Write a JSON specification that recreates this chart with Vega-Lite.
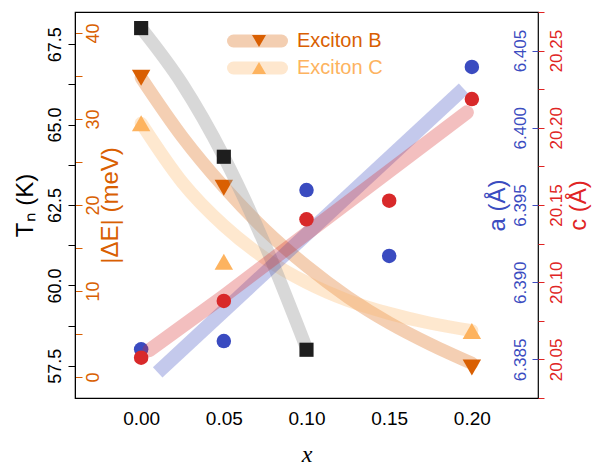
{
  "$schema": "https://vega.github.io/schema/vega-lite/v6.json",
  "width": 463,
  "height": 386,
  "autosize": {"type": "none"},
  "padding": {"left": 75, "top": 12, "right": 55, "bottom": 70},
  "background": "white",
  "config": {
    "font": "Liberation Sans",
    "view": {"stroke": "black", "strokeWidth": 1.2},
    "axis": {"grid": false, "labelFont": "Liberation Sans", "titleFont": "Liberation Sans", "titleFontWeight": "normal", "labelOverlap": false, "labelFlush": false, "labelBound": false}
  },
  "datasets": {
    "tn": [
      {"x": 0, "TN": 68, "kind": "pt"}, {"x": 0.05, "TN": 64, "kind": "pt"}, {"x": 0.1, "TN": 58, "kind": "pt"},
      {"x": 0, "TN": 68, "kind": "fit"}, {"x": 0.025, "TN": 66.25, "kind": "fit"}, {"x": 0.05, "TN": 64, "kind": "fit"}, {"x": 0.075, "TN": 61.25, "kind": "fit"}, {"x": 0.1, "TN": 58.05, "kind": "fit"}
    ],
    "de": [
      {"x": 0, "dE": 34.8, "series": "Exciton B", "kind": "pt"}, {"x": 0.05, "dE": 22.0, "series": "Exciton B", "kind": "pt"}, {"x": 0.2, "dE": 1.1, "series": "Exciton B", "kind": "pt"},
      {"x": 0, "dE": 29.5, "series": "Exciton C", "kind": "pt"}, {"x": 0.05, "dE": 13.4, "series": "Exciton C", "kind": "pt"}, {"x": 0.2, "dE": 5.35, "series": "Exciton C", "kind": "pt"},
      {"x": 0, "dE": 34.8, "series": "Exciton B", "kind": "fit"}, {"x": 0.025, "dE": 27.9, "series": "Exciton B", "kind": "fit"}, {"x": 0.05, "dE": 22.1, "series": "Exciton B", "kind": "fit"}, {"x": 0.075, "dE": 17.1, "series": "Exciton B", "kind": "fit"}, {"x": 0.1, "dE": 12.9, "series": "Exciton B", "kind": "fit"}, {"x": 0.125, "dE": 9.3, "series": "Exciton B", "kind": "fit"}, {"x": 0.15, "dE": 6.3, "series": "Exciton B", "kind": "fit"}, {"x": 0.175, "dE": 3.8, "series": "Exciton B", "kind": "fit"}, {"x": 0.2, "dE": 1.6, "series": "Exciton B", "kind": "fit"},
      {"x": 0, "dE": 29.5, "series": "Exciton C", "kind": "fit"}, {"x": 0.025, "dE": 22.6, "series": "Exciton C", "kind": "fit"}, {"x": 0.05, "dE": 17.6, "series": "Exciton C", "kind": "fit"}, {"x": 0.075, "dE": 13.8, "series": "Exciton C", "kind": "fit"}, {"x": 0.1, "dE": 11.0, "series": "Exciton C", "kind": "fit"}, {"x": 0.125, "dE": 8.9, "series": "Exciton C", "kind": "fit"}, {"x": 0.15, "dE": 7.4, "series": "Exciton C", "kind": "fit"}, {"x": 0.175, "dE": 6.25, "series": "Exciton C", "kind": "fit"}, {"x": 0.2, "dE": 5.4, "series": "Exciton C", "kind": "fit"}
    ],
    "a": [
      {"x": 0, "a": 6.38565, "kind": "pt"}, {"x": 0.05, "a": 6.38619, "kind": "pt"}, {"x": 0.1, "a": 6.39597, "kind": "pt"}, {"x": 0.15, "a": 6.3917, "kind": "pt"}, {"x": 0.2, "a": 6.40394, "kind": "pt"},
      {"x": 0.01, "a": 6.38416, "kind": "fit"}, {"x": 0.195, "a": 6.40254, "kind": "fit"}
    ],
    "c": [
      {"x": 0, "c": 20.0511, "kind": "pt"}, {"x": 0.05, "c": 20.0879, "kind": "pt"}, {"x": 0.1, "c": 20.1407, "kind": "pt"}, {"x": 0.15, "c": 20.1528, "kind": "pt"}, {"x": 0.2, "c": 20.2186, "kind": "pt"},
      {"x": 0.005, "c": 20.056, "kind": "fit"}, {"x": 0.05, "c": 20.091, "kind": "fit"}, {"x": 0.197, "c": 20.21, "kind": "fit"}
    ]
  },
  "encoding": {
    "x": {
      "field": "x", "type": "quantitative",
      "scale": {"domain": [-0.04, 0.24], "nice": false, "zero": false},
      "axis": {"values": [0, 0.05, 0.1, 0.15, 0.2], "format": ".2f", "ticks": false, "labelFontSize": 19, "labelColor": "black", "labelPadding": 11, "domainColor": "black", "title": "x", "titleFont": "Liberation Serif", "titleFontStyle": "italic", "titleFontSize": 24, "titlePadding": 14, "titleColor": "black"}
    }
  },
  "layer": [
    {
      "data": {"name": "de"},
      "encoding": {
        "y": {
          "field": "dE", "type": "quantitative",
          "scale": {"domain": [-2.44, 42.44], "nice": false, "zero": false},
          "axis": {"orient": "right", "offset": -463, "values": [0, 5, 10, 15, 20, 25, 30, 35, 40], "labelExpr": "datum.value % 10 === 0 ? datum.label : ''", "domain": false, "tickColor": "#d95f02", "tickSize": 7, "labelColor": "#d95f02", "labelFontSize": 18, "labelAngle": -90, "labelAlign": "center", "labelBaseline": "top", "labelPadding": 2, "title": "|ΔE| (meV)", "titleColor": "#d95f02", "titleFontSize": 24, "titleAngle": -90, "titleBaseline": "top", "titlePadding": -4}
        }
      },
      "layer": [
        {
          "transform": [{"filter": "datum.kind === 'fit'"}],
          "mark": {"type": "line", "strokeWidth": 13, "opacity": 0.3, "strokeCap": "round", "interpolate": "monotone"},
          "encoding": {
            "color": {
              "field": "series", "type": "nominal",
              "scale": {"domain": ["Exciton B", "Exciton C"], "range": ["#d95f02", "#fdb35f"]},
              "legend": {"orient": "none", "legendX": 152, "legendY": 19, "title": null, "padding": 0, "symbolType": "stroke", "symbolSize": 2304, "symbolStrokeWidth": 13, "symbolOpacity": 0.3, "labelFontSize": 20, "labelOffset": 9, "clipHeight": 20, "rowPadding": 7, "encode": {"labels": {"update": {"fill": {"signal": "datum.value === 'Exciton B' ? '#d95f02' : '#fdb35f'"}}}, "symbols": {"update": {"strokeCap": {"value": "round"}}}}}
            }
          }
        },
        {
          "transform": [{"filter": "datum.kind === 'pt'"}],
          "mark": {"type": "point", "filled": true, "opacity": 1, "size": 340},
          "encoding": {
            "fill": {
              "field": "series", "type": "nominal",
              "scale": {"domain": ["Exciton B", "Exciton C"], "range": ["#d95f02", "#fdb35f"]},
              "legend": {"orient": "none", "legendX": 174, "legendY": 19, "title": null, "padding": 0, "symbolSize": 196, "symbolStrokeWidth": 0, "symbolOpacity": 1, "labelExpr": "''", "labelFontSize": 20, "clipHeight": 20, "rowPadding": 7, "encode": {"symbols": {"update": {"shape": {"signal": "datum.value === 'Exciton B' ? 'triangle-down' : 'triangle-up'"}, "strokeWidth": {"value": 0}}}}}
            },
            "shape": {
              "field": "series", "type": "nominal",
              "scale": {"domain": ["Exciton B", "Exciton C"], "range": ["triangle-down", "triangle-up"]},
              "legend": null
            }
          }
        }
      ],
      "resolve": {"scale": {"color": "independent", "fill": "independent"}, "legend": {"color": "independent", "fill": "independent"}}
    },
    {
      "data": {"name": "tn"},
      "encoding": {
        "y": {
          "field": "TN", "type": "quantitative",
          "scale": {"domain": [56.5, 68.5], "nice": false, "zero": false},
          "axis": {"orient": "left", "values": [57.5, 58.75, 60, 61.25, 62.5, 63.75, 65, 66.25, 67.5], "labelExpr": "datum.value % 2.5 === 0 ? format(datum.value, '.1f') : ''", "domain": true, "domainColor": "black", "tickColor": "black", "tickSize": 7, "labelColor": "black", "labelFontSize": 18, "labelAngle": -90, "labelAlign": "center", "labelBaseline": "bottom", "labelPadding": 4, "title": "Tₙ (K)", "titleColor": "black", "titleFontSize": 24, "titleAngle": -90, "titlePadding": 9}
        }
      },
      "layer": [
        {
          "transform": [{"filter": "datum.kind === 'fit'"}],
          "mark": {"type": "line", "strokeWidth": 13, "color": "#a8a8a8", "opacity": 0.45, "strokeCap": "butt", "interpolate": "monotone"}
        },
        {
          "transform": [{"filter": "datum.kind === 'pt'"}],
          "mark": {"type": "point", "shape": "square", "filled": true, "color": "#1e1e1e", "opacity": 1, "size": 200}
        }
      ]
    },
    {
      "data": {"name": "a"},
      "encoding": {
        "y": {
          "field": "a", "type": "quantitative",
          "scale": {"domain": [6.3825, 6.4075], "nice": false, "zero": false},
          "axis": {"orient": "left", "offset": -463, "values": [6.385, 6.39, 6.395, 6.4, 6.405], "format": ".3f", "domain": false, "tickColor": "#3b4cc0", "tickSize": 6, "labelColor": "#3b4cc0", "labelFontSize": 17, "labelAngle": -90, "labelAlign": "center", "labelBaseline": "bottom", "labelPadding": 3, "title": "a (Å)", "titleColor": "#3b4cc0", "titleFontSize": 24, "titleAngle": -90, "titlePadding": 2}
        }
      },
      "layer": [
        {
          "transform": [{"filter": "datum.kind === 'fit'"}],
          "mark": {"type": "line", "strokeWidth": 14, "color": "#3b4cc0", "opacity": 0.3, "strokeCap": "butt"}
        },
        {
          "transform": [{"filter": "datum.kind === 'pt'"}],
          "mark": {"type": "point", "shape": "circle", "filled": true, "color": "#3a4bc0", "opacity": 1, "size": 210}
        }
      ]
    },
    {
      "data": {"name": "c"},
      "encoding": {
        "y": {
          "field": "c", "type": "quantitative",
          "scale": {"domain": [20.025, 20.275], "nice": false, "zero": false},
          "axis": {"orient": "right", "values": [20.025, 20.05, 20.075, 20.1, 20.125, 20.15, 20.175, 20.2, 20.225, 20.25, 20.275], "labelExpr": "round(datum.value * 1000) % 50 === 0 ? format(datum.value, '.2f') : ''", "domain": false, "tickColor": "#e02424", "tickSize": 6, "labelColor": "#e02424", "labelFontSize": 17, "labelAngle": -90, "labelAlign": "center", "labelBaseline": "top", "labelPadding": 4, "title": "c (Å)", "titleColor": "#e02424", "titleFontSize": 24, "titleAngle": -90, "titleBaseline": "top", "titlePadding": 2}
        }
      },
      "layer": [
        {
          "transform": [{"filter": "datum.kind === 'fit'"}],
          "mark": {"type": "line", "strokeWidth": 14, "color": "#d62a2a", "opacity": 0.3, "strokeCap": "round"}
        },
        {
          "transform": [{"filter": "datum.kind === 'pt'"}],
          "mark": {"type": "point", "shape": "circle", "filled": true, "color": "#d8292a", "opacity": 1, "size": 210}
        }
      ]
    }
  ],
  "resolve": {"scale": {"y": "independent", "color": "independent", "shape": "independent", "fill": "independent"}, "axis": {"y": "independent"}, "legend": {"color": "independent", "shape": "independent", "fill": "independent"}}
}
